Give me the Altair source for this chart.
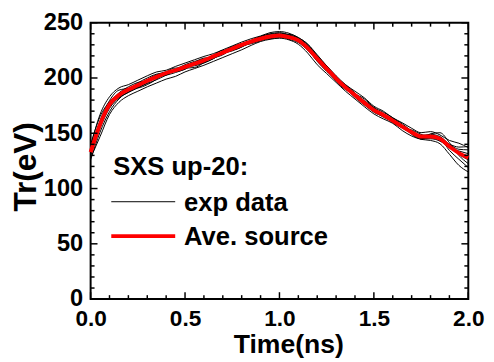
import altair as alt
import pandas as pd

FONT = "Liberation Sans"

time_ns = [0.0, 0.05, 0.1, 0.15, 0.2, 0.25, 0.3, 0.35, 0.4, 0.45, 0.5, 0.55, 0.6, 0.65, 0.7,
           0.75, 0.8, 0.85, 0.9, 0.95, 1.0, 1.05, 1.1, 1.15, 1.2, 1.25, 1.3, 1.35, 1.4, 1.45,
           1.5, 1.55, 1.6, 1.65, 1.7, 1.75, 1.8, 1.85, 1.9, 1.95, 2.0]

ave_source = [133, 158, 176, 184.5, 189.5, 193.5, 197.5, 201, 204.5, 207, 210, 213, 216, 219.5, 223,
              226.5, 230, 233, 235.5, 237.5, 238.5, 237, 234, 227, 217.5, 208.5, 199.5, 191.5, 184.5, 177.5,
              171, 166.5, 161.5, 156, 151, 147, 147, 145, 138, 132, 128]

exp1 = [138, 167, 183, 191, 194, 198, 202, 205.5, 207, 210.5, 213.5, 216.5, 219.5, 222, 225.5,
        229, 232.5, 235.5, 238, 241, 242, 240.5, 236.5, 230.5, 221, 211, 202, 194, 188, 182,
        174.5, 170, 164, 159.5, 154.5, 150.5, 151.5, 148.5, 143.5, 141, 137]
exp2 = [127.5, 147, 167, 178, 184, 188, 192, 195.5, 199, 201.5, 205.5, 208.5, 211.5, 215, 218.5,
        222, 225.5, 229.5, 233, 235, 236, 234.5, 230.5, 222.5, 212, 204, 196, 188, 181, 174,
        167.5, 163, 159, 152.5, 147.5, 144.5, 143.5, 140.5, 131, 121, 115]
exp3 = [135, 161.5, 179.5, 189, 190.5, 191, 194, 199, 205.5, 209, 209, 209.5, 214, 220.5, 225,
        225.5, 228, 234, 237.5, 239.5, 240.5, 239, 236, 229.5, 218.5, 207.5, 197, 189.5, 185.5, 181,
        173.5, 169, 164, 157, 149, 145, 149.5, 150.5, 141.5, 130, 122.5]
exp4 = [129.5, 154.5, 172.5, 182, 187, 192.5, 198.5, 203, 205.5, 206, 208, 214, 218, 218.5, 221,
        226.5, 231, 232, 234.5, 237.5, 237.5, 235, 232, 225, 215.5, 206.5, 198.5, 193.5, 186.5, 176.5,
        169, 165.5, 163.5, 158.5, 152, 145, 145, 143, 137, 134, 131.5]
exp5 = [140, 165, 178.5, 185.5, 189.5, 195.5, 200, 203.5, 204.5, 208, 212, 215, 217, 219.5, 224,
        228.5, 231, 234, 236.5, 238.5, 239.5, 239.5, 236.5, 230.5, 220, 210.5, 200.5, 190.5, 182.5, 175.5,
        170, 167.5, 162.5, 155, 150, 148, 147, 143, 140, 137.5, 138]
exp6 = [126, 151, 169.5, 181, 187.5, 191.5, 195, 198.5, 202.5, 207, 211, 212, 214, 217.5, 222,
        224.5, 228, 232, 234.5, 235.5, 236.5, 236, 233, 226, 215, 206, 198.5, 190.5, 183.5, 178.5,
        173, 166.5, 159.5, 155, 153, 149, 146, 145, 134.5, 126.5, 119]
exp7 = [136.5, 160, 177, 186.5, 192, 196, 197.5, 200, 203.5, 207, 210, 211, 213.5, 217.5, 223,
        225.5, 229, 233, 237.5, 240, 241, 239, 235, 228, 217.5, 207.5, 200.5, 193.5, 185.5, 179.5,
        173, 165.5, 160.5, 157, 152, 148, 149, 147, 139, 131, 126]
exp8 = [131, 156, 174, 182.5, 187, 191, 195.5, 201, 202.5, 205, 208, 213, 217, 219.5, 222,
        225.5, 229, 231, 233.5, 236.5, 237.5, 237, 234, 229, 220, 211, 201.5, 191.5, 183.5, 176.5,
        170, 164.5, 160.5, 156, 150, 145, 146, 146, 140, 135.5, 135]

exp_series = {"exp1": exp1, "exp2": exp2, "exp3": exp3, "exp4": exp4,
              "exp5": exp5, "exp6": exp6, "exp7": exp7, "exp8": exp8}

x_major = [0.0, 0.5, 1.0, 1.5, 2.0]
x_minor = [0.1, 0.2, 0.3, 0.4, 0.6, 0.7, 0.8, 0.9, 1.1, 1.2, 1.3, 1.4, 1.6, 1.7, 1.8, 1.9]
y_major = [0, 50, 100, 150, 200, 250]
y_minor = [10, 20, 30, 40, 60, 70, 80, 90, 110, 120, 130, 140, 160, 170, 180, 190,
           210, 220, 230, 240]

legend_title = ["SXS up-20:"]
legend_labels = ["exp data", "Ave. source"]

W, H = 384, 281

rows = []
for name, vals in exp_series.items():
    for t, v in zip(time_ns, vals):
        rows.append({"x": t, "y": v, "series": name})
exp_df = pd.DataFrame(rows)
ave_df = pd.DataFrame({"x": time_ns, "y": ave_source})

xs = alt.Scale(domain=[0, 2], nice=False, zero=False)
ys = alt.Scale(domain=[0, 250], nice=False)

x_axis = alt.Axis(title="Time(ns)", values=x_major, format=".1f", labelFontSize=23,
                  labelFont=FONT, labelFontWeight="bold", labelColor="black", labelPadding=9,
                  titleFont=FONT, titleFontSize=27, titleFontWeight="bold", titleColor="black",
                  titleX=201, titleY=54, titleBaseline="alphabetic",
                  labelFlush=False, labelOverlap=False)
y_axis = alt.Axis(title="Tr(eV)", values=y_major, format="d", labelFontSize=24,
                  labelFont=FONT, labelFontWeight="bold", labelColor="black", labelPadding=8,
                  titleFont=FONT, titleFontSize=32, titleFontWeight="bold", titleColor="black",
                  titleX=-56, titleY=146, titleBaseline="alphabetic",
                  labelFlush=False, labelOverlap=False)

X = alt.X("x:Q", scale=xs, axis=x_axis)
Y = alt.Y("y:Q", scale=ys, axis=y_axis)

exp_lines = alt.Chart(exp_df).mark_line(color="black", strokeWidth=1, interpolate="monotone").encode(
    x=X, y=Y, detail="series:N")
ave_line = alt.Chart(ave_df).mark_line(color="#ff0000", strokeWidth=4, interpolate="monotone").encode(
    x=X, y=Y)

def xticks(vals, length):
    d = pd.DataFrame({"x": vals})
    bottom = alt.Chart(d).mark_rule(color="black", strokeWidth=1.5).encode(
        x=X, y=alt.value(H), y2=alt.value(H - length))
    top = alt.Chart(d).mark_rule(color="black", strokeWidth=1.5).encode(
        x=X, y=alt.value(0), y2=alt.value(length))
    return [bottom, top]

def yticks(vals, length):
    d = pd.DataFrame({"y": vals})
    left = alt.Chart(d).mark_rule(color="black", strokeWidth=1.5).encode(
        y=Y, x=alt.value(0), x2=alt.value(length))
    right = alt.Chart(d).mark_rule(color="black", strokeWidth=1.5).encode(
        y=Y, x=alt.value(W), x2=alt.value(W - length))
    return [left, right]

ticks = xticks(x_major, 7) + xticks(x_minor, 4) + yticks(y_major, 7) + yticks(y_minor, 4)

title_df = pd.DataFrame({"label": legend_title})
title_text = alt.Chart(title_df).mark_text(
    align="left", baseline="alphabetic", font=FONT, fontSize=26, fontWeight="bold", color="black"
).encode(x=alt.value(23), y=alt.value(155), text="label:N")

lab_df = pd.DataFrame({"label": legend_labels, "ypos": [191.5, 226]})
lab_text = alt.Chart(lab_df).mark_text(
    align="left", baseline="alphabetic", font=FONT, fontSize=26, fontWeight="bold", color="black"
).encode(x=alt.value(95), y=alt.Y("ypos:Q", scale=None), text="label:N")

leg_black = alt.Chart(pd.DataFrame({"label": legend_labels[:1]})).mark_rule(
    color="black", strokeWidth=1).encode(x=alt.value(21), x2=alt.value(86), y=alt.value(182))
leg_red = alt.Chart(pd.DataFrame({"label": legend_labels[1:]})).mark_rule(
    color="#ff0000", strokeWidth=4).encode(x=alt.value(21), x2=alt.value(86), y=alt.value(217))

chart = alt.layer(
    exp_lines, ave_line, *ticks, title_text, lab_text, leg_black, leg_red
).properties(
    width=W, height=H,
    autosize=alt.AutoSizeParams(type="none"),
    padding={"left": 84, "top": 12, "right": 18, "bottom": 61},
    background="white",
).configure_view(
    stroke="black", strokeWidth=2
).configure_axis(
    grid=False, domain=False, ticks=False
)

chart.save("out.html", embed_options={"renderer": "svg", "actions": False})
